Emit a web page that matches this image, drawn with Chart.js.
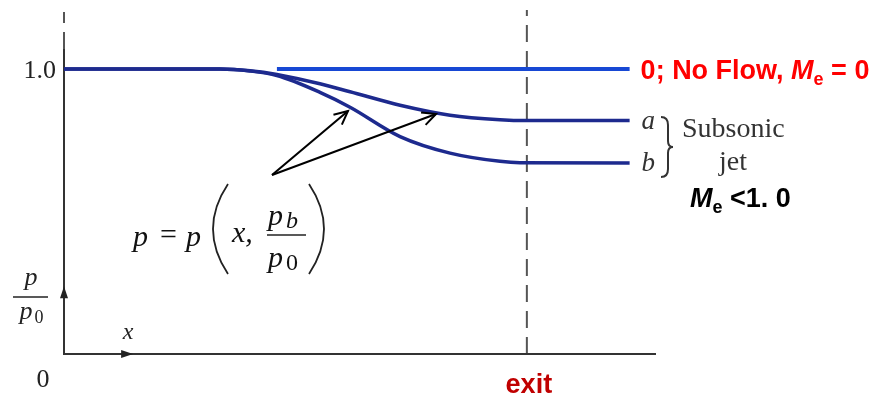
<!DOCTYPE html>
<html><head><meta charset="utf-8">
<script src="https://cdn.jsdelivr.net/npm/chart.js@4.4.1/dist/chart.umd.min.js"></script>
<style>html,body{margin:0;padding:0;background:#fff}canvas{display:block}</style>
</head><body>
<canvas id="c" width="881" height="400"></canvas>
<script>
// x positions (exit = 1.0) and p/p0 values
const xNoFlow = [0.46, 1.222];
const noFlow  = [1.0, 1.0];
const xA = [0, 0.337, 0.402, 0.46, 0.553, 0.618, 0.726, 0.834, 0.942, 1.0, 1.222];
const curveA = [1.0, 1.0, 0.994, 0.981, 0.948, 0.920, 0.873, 0.838, 0.822, 0.819, 0.819];
const xB = [0, 0.337, 0.402, 0.46, 0.553, 0.618, 0.726, 0.834, 0.942, 0.985, 1.222];
const curveB = [1.0, 1.0, 0.993, 0.977, 0.918, 0.866, 0.763, 0.705, 0.676, 0.671, 0.670];
const yTickLabels = ["0", "1.0"];
const exitX = 1.0;

const pts = (xs, ys) => xs.map((x, i) => ({x, y: ys[i]}));

const SERIF = '"Liberation Serif", "DejaVu Serif", serif';
const SANS = '"Liberation Sans", Arial, sans-serif';

const overlay = {
  id: 'overlay',
  beforeDatasetsDraw(chart) {
    const ctx = chart.ctx, xs = chart.scales.x, ys = chart.scales.y;
    const x0 = xs.getPixelForValue(0), y0 = ys.getPixelForValue(0);
    const xe = xs.getPixelForValue(exitX);
    const ca = chart.chartArea;
    ctx.save();
    // exit dashed line
    ctx.strokeStyle = '#555'; ctx.lineWidth = 2; ctx.setLineDash([17, 9]);
    ctx.beginPath(); ctx.moveTo(xe, y0); ctx.lineTo(xe, ca.top - 2); ctx.stroke();
    // y axis top dashed part
    ctx.beginPath(); ctx.moveTo(x0, ys.getPixelForValue(1.07)); ctx.lineTo(x0, ca.top); ctx.stroke();
    ctx.setLineDash([]);
    // axes
    ctx.strokeStyle = '#333'; ctx.lineWidth = 2;
    ctx.beginPath();
    ctx.moveTo(x0, ys.getPixelForValue(1.07)); ctx.lineTo(x0, y0); ctx.lineTo(ca.right, y0);
    ctx.stroke();
    // axis arrows
    ctx.fillStyle = '#222';
    const ay = ys.getPixelForValue(0.21);
    ctx.beginPath(); ctx.moveTo(x0, ay - 8); ctx.lineTo(x0 - 4, ay + 4); ctx.lineTo(x0 + 4, ay + 4); ctx.closePath(); ctx.fill();
    const ax = xs.getPixelForValue(0.132);
    ctx.beginPath(); ctx.moveTo(ax + 8, y0); ctx.lineTo(ax - 4, y0 - 4); ctx.lineTo(ax - 4, y0 + 4); ctx.closePath(); ctx.fill();
    ctx.restore();
  },
  afterDatasetsDraw(chart) {
    const ctx = chart.ctx, xs = chart.scales.x, ys = chart.scales.y;
    const x0 = xs.getPixelForValue(0), y0 = ys.getPixelForValue(0);
    const xe = xs.getPixelForValue(exitX);
    ctx.save();
    ctx.textBaseline = 'middle';
    // tick labels
    ctx.fillStyle = '#222'; ctx.font = '26px ' + SERIF; ctx.textAlign = 'right';
    ctx.fillText(yTickLabels[1], x0 - 8, ys.getPixelForValue(1.0) + 2);
    ctx.textAlign = 'center';
    ctx.fillText(yTickLabels[0], x0 - 21, y0 + 26);
    // y label p/p0
    ctx.font = 'italic 26px ' + SERIF;
    ctx.fillText('p', 31, 278);
    ctx.lineWidth = 1.5; ctx.strokeStyle = '#222';
    ctx.beginPath(); ctx.moveTo(13, 297); ctx.lineTo(48, 297); ctx.stroke();
    ctx.fillText('p', 26, 312);
    ctx.font = '18px ' + SERIF; ctx.fillText('0', 39, 318);
    // x label
    ctx.font = 'italic 24px ' + SERIF; ctx.fillText('x', 128, 333);
    // exit
    ctx.fillStyle = '#c00000'; ctx.font = 'bold 27px ' + SANS;
    ctx.fillText('exit', xe + 2, 386);
    // formula
    ctx.fillStyle = '#111';
    ctx.font = 'italic 30px ' + SERIF; ctx.textAlign = 'left';
    ctx.fillText('p', 133, 238);
    ctx.font = '30px ' + SERIF; ctx.fillText('=', 160, 236);
    ctx.font = 'italic 30px ' + SERIF; ctx.fillText('p', 186, 238);
    ctx.fillText('x,', 232, 234);
    ctx.fillText('p', 268, 217);
    ctx.font = 'italic 24px ' + SERIF; ctx.fillText('b', 286, 222);
    ctx.font = 'italic 30px ' + SERIF; ctx.fillText('p', 268, 259);
    ctx.font = '24px ' + SERIF; ctx.fillText('0', 286, 264);
    ctx.lineWidth = 1.6;
    ctx.beginPath(); ctx.moveTo(267, 235); ctx.lineTo(306, 235); ctx.stroke();
    // big parentheses
    ctx.lineWidth = 1.8;
    ctx.beginPath(); ctx.moveTo(228, 184); ctx.quadraticCurveTo(198, 229, 228, 274); ctx.stroke();
    ctx.beginPath(); ctx.moveTo(309, 184); ctx.quadraticCurveTo(339, 229, 309, 274); ctx.stroke();
    // arrows
    const arrow = (xa, ya, xb, yb) => {
      ctx.strokeStyle = '#000'; ctx.fillStyle = '#000'; ctx.lineWidth = 2;
      ctx.beginPath(); ctx.moveTo(xa, ya); ctx.lineTo(xb, yb); ctx.stroke();
      const ang = Math.atan2(yb - ya, xb - xa), L = 15, W = 0.45;
      ctx.beginPath();
      ctx.moveTo(xb - L * Math.cos(ang - W), yb - L * Math.sin(ang - W));
      ctx.lineTo(xb, yb);
      ctx.lineTo(xb - L * Math.cos(ang + W), yb - L * Math.sin(ang + W));
      ctx.stroke();
    };
    arrow(272, 175, 348, 111);
    arrow(272, 175, 436, 114);
    // right labels
    const xr = xs.getPixelForValue(1.222);
    const yN = ys.getPixelForValue(1.0), yA = ys.getPixelForValue(0.819), yB = ys.getPixelForValue(0.670);
    ctx.fillStyle = '#ff0000'; ctx.font = 'bold 27px ' + SANS; ctx.textAlign = 'left';
    let t = '0; No Flow, ';
    let px = xr + 11;
    ctx.fillText(t, px, yN + 3); px += ctx.measureText(t).width;
    ctx.font = 'italic bold 27px ' + SANS; ctx.fillText('M', px, yN + 3); px += ctx.measureText('M').width;
    ctx.font = 'bold 18px ' + SANS; ctx.fillText('e', px, yN + 11); px += ctx.measureText('e').width;
    ctx.font = 'bold 27px ' + SANS; ctx.fillText(' = 0', px, yN + 3);
    ctx.fillStyle = '#333'; ctx.font = 'italic 27px ' + SERIF;
    ctx.fillText('a', xr + 12, yA + 1);
    ctx.fillText('b', xr + 12, yB + 1);
    // brace
    ctx.strokeStyle = '#333'; ctx.lineWidth = 2;
    const bx = 661, bt = 117, bb = 177, bm = (bt + bb) / 2;
    ctx.beginPath();
    ctx.moveTo(bx, bt); ctx.quadraticCurveTo(bx + 7, bt, bx + 7, bt + 8);
    ctx.lineTo(bx + 7, bm - 6); ctx.quadraticCurveTo(bx + 7, bm, bx + 12, bm);
    ctx.quadraticCurveTo(bx + 7, bm, bx + 7, bm + 6);
    ctx.lineTo(bx + 7, bb - 8); ctx.quadraticCurveTo(bx + 7, bb, bx, bb);
    ctx.stroke();
    ctx.font = '28px ' + SERIF; ctx.fillStyle = '#333';
    ctx.fillText('Subsonic', 682, 130);
    ctx.textAlign = 'center';
    ctx.fillText('jet', 733, 163);
    ctx.fillStyle = '#000'; ctx.textAlign = 'left';
    px = 690;
    ctx.font = 'italic bold 27px ' + SANS; ctx.fillText('M', px, 200); px += ctx.measureText('M').width;
    ctx.font = 'bold 18px ' + SANS; ctx.fillText('e', px, 208); px += ctx.measureText('e').width;
    ctx.font = 'bold 27px ' + SANS; ctx.fillText(' <1. 0', px, 200);
    ctx.restore();
  }
};

new Chart(document.getElementById('c'), {
  type: 'line',
  data: {
    datasets: [
      { label: 'a', data: pts(xA, curveA), borderColor: '#1d2a8e', borderWidth: 3.5, pointRadius: 0, cubicInterpolationMode: 'monotone', fill: false },
      { label: 'b', data: pts(xB, curveB), borderColor: '#1d2a8e', borderWidth: 3.5, pointRadius: 0, cubicInterpolationMode: 'monotone', fill: false },
      { label: 'No flow', data: pts(xNoFlow, noFlow), borderColor: '#1748d4', borderWidth: 4, pointRadius: 0, fill: false }
    ]
  },
  options: {
    responsive: false, animation: false,
    events: [],
    layout: { padding: { left: 64, right: 225, top: 12, bottom: 46 } },
    plugins: { legend: { display: false }, tooltip: { enabled: false } },
    scales: {
      x: { type: 'linear', min: 0, max: 1.279, display: false },
      y: { type: 'linear', min: 0, max: 1.2, display: false }
    }
  },
  plugins: [overlay]
});
</script>
</body></html>
